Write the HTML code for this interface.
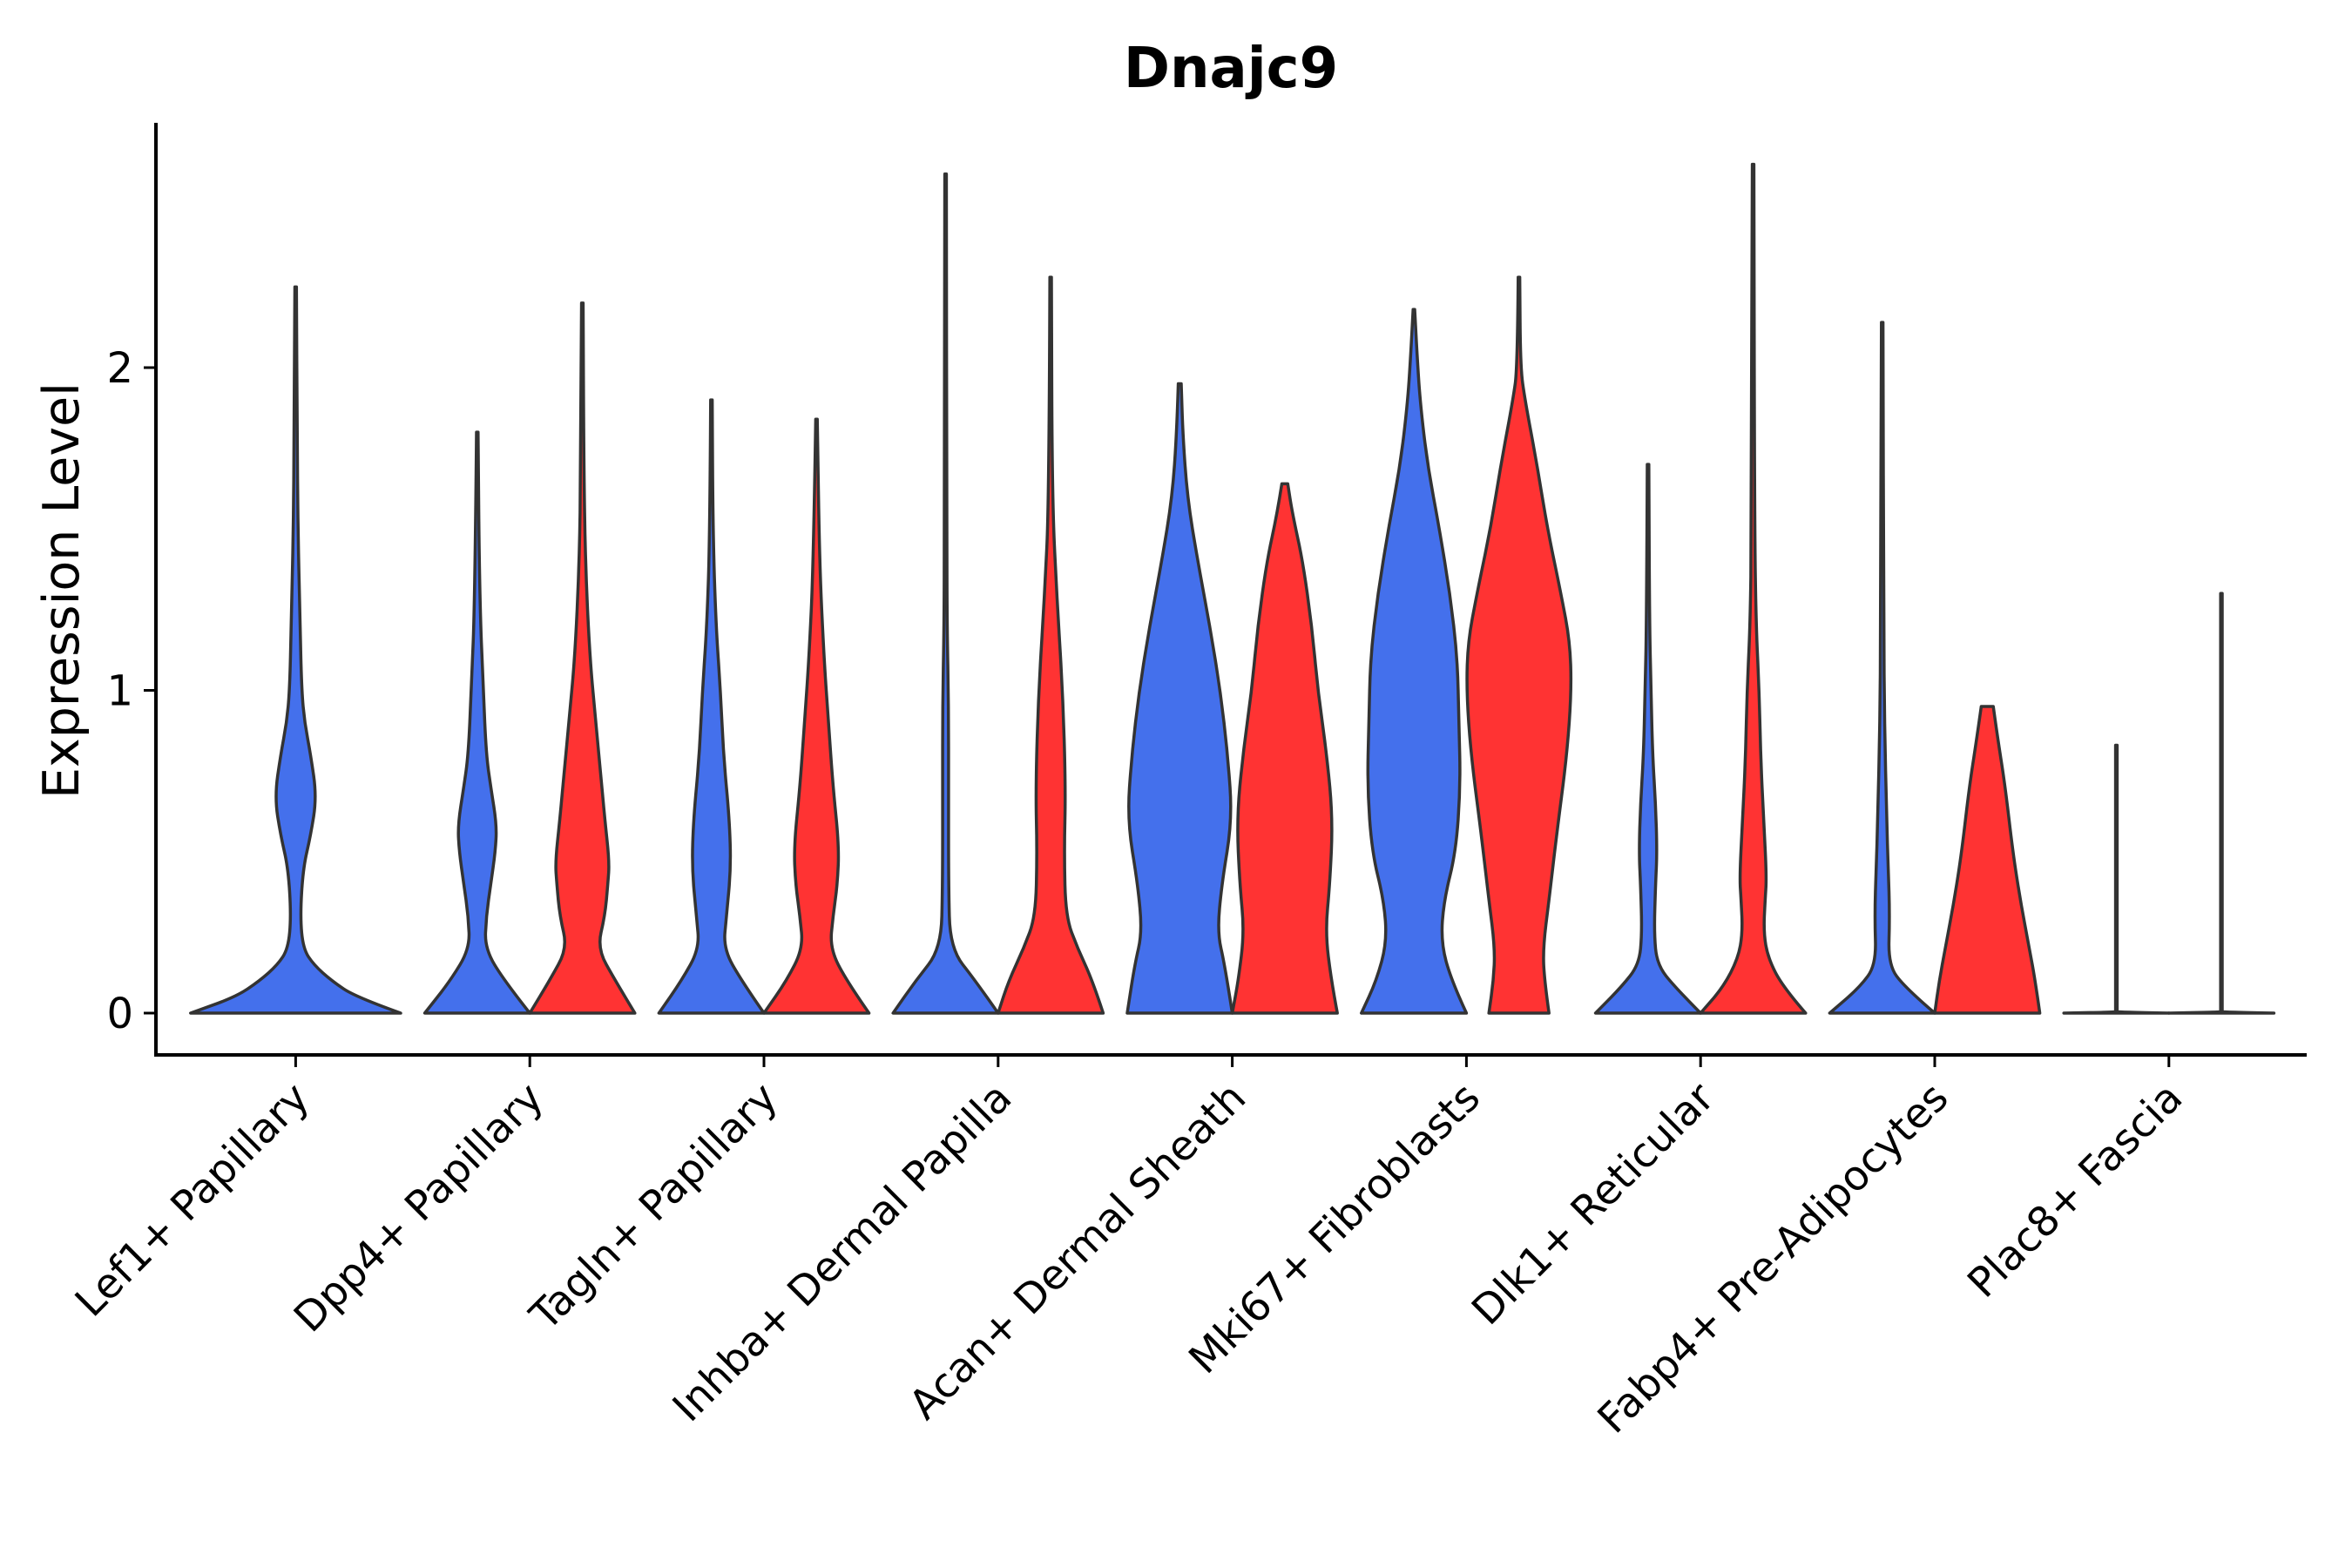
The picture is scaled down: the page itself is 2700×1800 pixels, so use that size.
<!DOCTYPE html>
<html><head><meta charset="utf-8"><style>
html,body{margin:0;padding:0;background:#fff;}
svg{display:block;font-family:"DejaVu Sans","Liberation Sans",sans-serif;}
</style></head><body>
<svg id="chart" width="2700" height="1800" viewBox="0 0 2700 1800">
<text x="1413" y="100" text-anchor="middle" font-size="64" font-weight="bold">Dnajc9</text>
<text transform="translate(90,678) rotate(-90)" text-anchor="middle" font-size="57">Expression Level</text>
<g id="plot"></g>
</svg>
<script>
const categories = ["Lef1+ Papillary","Dpp4+ Papillary","Tagln+ Papillary","Inhba+ Dermal Papilla","Acan+ Dermal Sheath","Mki67+ Fibroblasts","Dlk1+ Reticular","Fabp4+ Pre-Adipocytes","Plac8+ Fascia"];
const yTicks = [0,1,2];
// each violin: category index, group (0 blue, 1 red, -1 single), expression levels, relative densities
const violinCat = [0,1,1,2,2,3,3,4,4,5,5,6,6,7,7,8,8];
const violinGroup = [-1,0,1,0,1,0,1,0,1,0,1,0,1,0,1,0,1];
const violinLevels = [
 [0,0.05,0.1,0.15,0.2,0.3,0.45,0.55,0.67,0.8,0.9,1.0,1.2,1.5,1.8,2.25],
 [0,0.1,0.2,0.3,0.4,0.5,0.58,0.7,0.8,1.0,1.3,1.8],
 [0,0.1,0.2,0.3,0.4,0.47,0.6,0.75,0.9,1.1,1.4,1.7,2.2],
 [0,0.1,0.2,0.3,0.45,0.6,0.8,1.0,1.2,1.5,1.9],
 [0,0.1,0.2,0.3,0.4,0.52,0.7,0.9,1.1,1.4,1.84],
 [0,0.1,0.2,0.4,0.7,0.95,1.2,1.5,2.6],
 [0,0.1,0.2,0.3,0.5,0.7,1.0,1.3,1.6,2.28],
 [0,0.15,0.25,0.4,0.6,0.8,1.0,1.2,1.4,1.6,1.8,1.95],
 [0,0.1,0.25,0.4,0.6,0.8,1.0,1.2,1.4,1.55,1.64],
 [0,0.1,0.22,0.35,0.5,0.7,0.9,1.1,1.3,1.5,1.7,1.9,2.05,2.18],
 [0,0.1,0.2,0.35,0.55,0.8,1.0,1.15,1.3,1.5,1.7,1.9,2.0,2.28],
 [0,0.08,0.15,0.25,0.4,0.5,0.65,0.8,1.0,1.2,1.7],
 [0,0.08,0.17,0.25,0.35,0.42,0.6,0.8,1.0,1.2,1.5,2.63],
 [0,0.08,0.15,0.3,0.45,0.6,0.9,1.2,2.14],
 [0,0.1,0.2,0.35,0.5,0.7,0.85,0.95],
 [0,0.003,0.006,0.83],
 [0,0.003,0.006,1.3]
];
const violinDensity = [
 [70,40,24,12,5,3,5,10,14,10,6,4,3,1.5,1,0.5],
 [35,18,5,6,9,12,13,9,6,4,1.5,0.5],
 [35,22,10,15,17,18,15,12,9,5,2,1,0.5],
 [35,20,8,10,13,12,8,6,3,1,0.5],
 [35,20,9,11,14,15,11,8,5,2,0.5],
 [35,20,3,2,2,2,1,0.8,0.5],
 [35,28,18,10,9,10,8,4,1,0.5],
 [35,30,25,28,35,32,27,20,12,5,2,1],
 [35,31,27,30,32,28,22,18,12,5,2],
 [35,25,18,20,28,31,30,29,24,17,9,4,2,0.5],
 [20,17,16,20,25,32,35,34,28,19,12,4,1,0.5],
 [35,18,6,4,5,6,5,3,2,1,0.5],
 [35,20,10,7,8,9,7,5,4,2,1,0.5],
 [35,15,4,5,4,3,1.5,1,0.5],
 [35,32,28,22,17,12,7,4],
 [35,0.5,0.5,0.5],
 [35,0.5,0.5,0.5]
];
const colors = ["#4470EC","#FF3333"];
const X0=179, X1=2648, Y0=141, YB=1211;
const catStart=339.4, catStep=268.8;
function xScale(i){return catStart+i*catStep;}
function yScale(v){return 1163 - v*370.5;}
function wScale(d){return d*1.723;}
const NS="http://www.w3.org/2000/svg";
const g=document.getElementById('plot');
function mk(tag,attrs){const e=document.createElementNS(NS,tag);for(const k in attrs)e.setAttribute(k,attrs[k]);g.appendChild(e);return e;}
function smooth(pts){
  let d="";
  for(let i=0;i<pts.length;i++){
    const p=pts[i];
    if(i===0){d+="M"+p[0].toFixed(1)+","+p[1].toFixed(1);continue;}
    if(i===pts.length-1){d+=" L"+p[0].toFixed(1)+","+p[1].toFixed(1);continue;}
    const n=pts[i+1];
    const mx=(p[0]+n[0])/2,my=(p[1]+n[1])/2;
    d+=" Q"+p[0].toFixed(1)+","+p[1].toFixed(1)+" "+mx.toFixed(1)+","+my.toFixed(1);
  }
  return d;
}
for(let v=0;v<violinCat.length;v++){
  const grp=violinGroup[v];
  const cx=xScale(violinCat[v]) + (grp<0?0:(grp===0?-60.3:60.3));
  const L=violinLevels[v], D=violinDensity[v];
  const right=[], left=[];
  for(let k=0;k<L.length;k++){
    right.push([cx+wScale(D[k]),yScale(L[k])]);
    left.push([cx-wScale(D[k]),yScale(L[k])]);
  }
  left.reverse();
  const dR=smooth(right), dL=smooth(left).replace(/^M/," L");
  const p=mk('path',{d:dR+dL+" Z",fill:colors[grp<0?0:grp],stroke:"#333","stroke-width":3.5,"stroke-linejoin":"round"});
  
  
}
const ya=mk('line',{x1:X0,y1:Y0,x2:X0,y2:YB+2,stroke:"#000","stroke-width":4});


const xa=mk('line',{x1:X0-2,y1:YB,x2:X1,y2:YB,stroke:"#000","stroke-width":4});


for(const t of yTicks){
  const y=yScale(t);
  const tk=mk('line',{x1:X0-14,y1:y,x2:X0,y2:y,stroke:"#000","stroke-width":3});
  
  
  const tx=mk('text',{x:X0-26,y:y+17,"text-anchor":"end","font-size":48});
  tx.textContent=t;
  
  
}
categories.forEach((c,i)=>{
  const x=xScale(i);
  const tk=mk('line',{x1:x,y1:YB,x2:x,y2:YB+14,stroke:"#000","stroke-width":3});
  
  
  const tx=mk('text',{transform:`translate(${x+18},${YB+52}) rotate(-45)`,"text-anchor":"end","font-size":47});
  tx.textContent=c;
  
  
});
</script>
</body></html>
